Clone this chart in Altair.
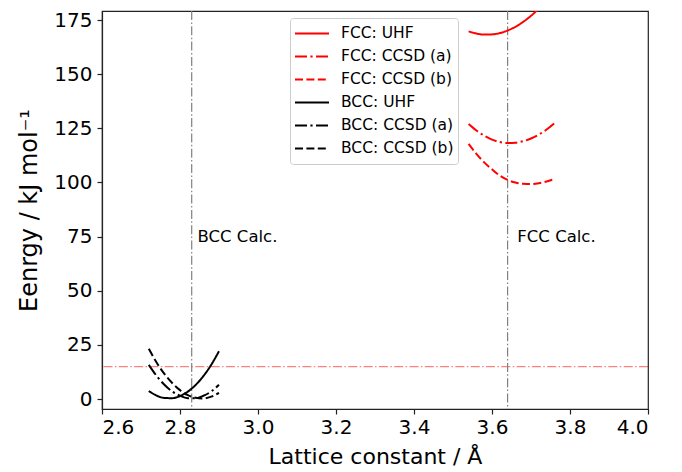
import altair as alt
import pandas as pd

# ---- data ----
bcc_x = [2.72, 2.74, 2.76, 2.78, 2.80, 2.82, 2.84, 2.86, 2.88, 2.90]
bcc_uhf = [3.7, 1.6, 0.5, 0.4, 1.4, 3.4, 6.5, 10.6, 15.8, 22.1]
bcc_ccsd_a = [15.8, 10.7, 6.6, 3.5, 1.5, 0.4, 0.4, 1.5, 3.5, 6.6]
bcc_ccsd_b = [23.2, 16.9, 11.6, 7.4, 4.1, 1.8, 0.6, 0.3, 1.1, 2.9]

fcc_x = [3.54, 3.56, 3.58, 3.60, 3.62, 3.64, 3.66, 3.68, 3.70, 3.72, 3.74, 3.76]
fcc_uhf = [169.8, 168.8, 168.3, 168.4, 169.0, 170.2, 171.9, 174.2, 177.0, 180.3, 184.2, 188.6]
fcc_ccsd_a = [127.0, 124.0, 121.6, 119.8, 118.7, 118.2, 118.4, 119.1, 120.3, 122.1, 124.5, 127.4]
fcc_ccsd_b = [117.8, 113.2, 109.3, 106.1, 103.2, 101.2, 100.0, 99.4, 99.3, 99.7, 100.5, 101.6]

series_names = ["FCC: UHF", "FCC: CCSD (a)", "FCC: CCSD (b)",
                "BCC: UHF", "BCC: CCSD (a)", "BCC: CCSD (b)"]
series_colors = ["#ff0000", "#ff0000", "#ff0000", "#000000", "#000000", "#000000"]

calc_lattice = [2.83, 3.64]
calc_labels = ["BCC Calc.", "FCC Calc."]
calc_label_x = [2.845, 3.665]
calc_label_y = [75, 75]
ref_energy = [15]

x_ticks = [2.6, 2.8, 3.0, 3.2, 3.4, 3.6, 3.8, 4.0]
y_ticks = [0, 25, 50, 75, 100, 125, 150, 175]

# ---- styles ----
SOLID = [1, 0]
DASHDOT = [12, 3.4, 2.2, 3.4]
DASHED = [8, 3.4]
series_dashes = [SOLID, DASHDOT, DASHED, SOLID, DASHDOT, DASHED]
FONT = "DejaVu Sans"

rows = []
for name, xs, ys in [
    ("FCC: UHF", fcc_x, fcc_uhf), ("FCC: CCSD (a)", fcc_x, fcc_ccsd_a),
    ("FCC: CCSD (b)", fcc_x, fcc_ccsd_b), ("BCC: UHF", bcc_x, bcc_uhf),
    ("BCC: CCSD (a)", bcc_x, bcc_ccsd_a), ("BCC: CCSD (b)", bcc_x, bcc_ccsd_b)]:
    for a, e in zip(xs, ys):
        rows.append({"series": name, "a": a, "E": e})
df = pd.DataFrame(rows)

xscale = alt.Scale(domain=[2.6, 4.0], nice=False, zero=False)
yscale = alt.Scale(domain=[-4.6, 179.2], nice=False, zero=False)

legend = alt.Legend(
    title=None, orient="none", legendX=188, legendY=7,
    symbolType="stroke", symbolSize=1156, symbolStrokeWidth=2,
    labelFont=FONT, labelFontSize=15.5, labelColor="black", labelOffset=11,
    labelLimit=0, symbolLimit=0, clipHeight=22.8,
    strokeColor="#cccccc", fillColor="white", cornerRadius=3,
    padding=4, rowPadding=0,
)

lines = alt.Chart(df).mark_line(strokeWidth=2, clip=True, interpolate="monotone").encode(
    x=alt.X("a:Q", scale=xscale,
            axis=alt.Axis(values=x_ticks, format=".1f", title="Lattice constant / Å")),
    y=alt.Y("E:Q", scale=yscale,
            axis=alt.Axis(values=y_ticks, title="Eenrgy / kJ mol⁻¹", titleFontSize=24)),
    color=alt.Color("series:N", scale=alt.Scale(domain=series_names, range=series_colors),
                    sort=series_names, legend=legend),
    strokeDash=alt.StrokeDash("series:N", scale=alt.Scale(domain=series_names, range=series_dashes),
                              sort=series_names, legend=legend),
    detail="series:N",
)

vrules = alt.Chart(pd.DataFrame({"a": calc_lattice})).mark_rule(
    color="#808080", strokeWidth=1.2, strokeDash=[9, 2.4, 1.5, 2.4]
).encode(x=alt.X("a:Q", scale=xscale))

hrule = alt.Chart(pd.DataFrame({"E": ref_energy})).mark_rule(
    color="#ff0000", opacity=0.5, strokeWidth=1.2, strokeDash=[9, 2.4, 1.5, 2.4]
).encode(y=alt.Y("E:Q", scale=yscale))

texts = alt.Chart(pd.DataFrame({"a": calc_label_x, "E": calc_label_y, "t": calc_labels})).mark_text(
    align="left", baseline="middle", font=FONT, fontSize=16.5, color="black"
).encode(x=alt.X("a:Q", scale=xscale), y=alt.Y("E:Q", scale=yscale), text="t:N")

chart = alt.layer(hrule, vrules, lines, texts).properties(
    width=546, height=398,
    autosize=alt.AutoSizeParams(type="none"),
    padding={"left": 94, "top": 3, "right": 26, "bottom": 61},
).configure_view(
    stroke="#222222", strokeWidth=1.2
).configure_axis(
    grid=False, domainColor="#222222", domainWidth=1.2, tickColor="#222222", tickSize=5,
    tickWidth=1.2, labelFont=FONT, labelFontSize=20, labelColor="black",
    titleFont=FONT, titleFontSize=22, titleFontWeight="normal", titleColor="black",
).configure_axisX(titlePadding=9, labelPadding=3).configure_axisY(titlePadding=12, labelPadding=5)

chart.save("out.html", embed_options={"renderer": "svg", "actions": False})
